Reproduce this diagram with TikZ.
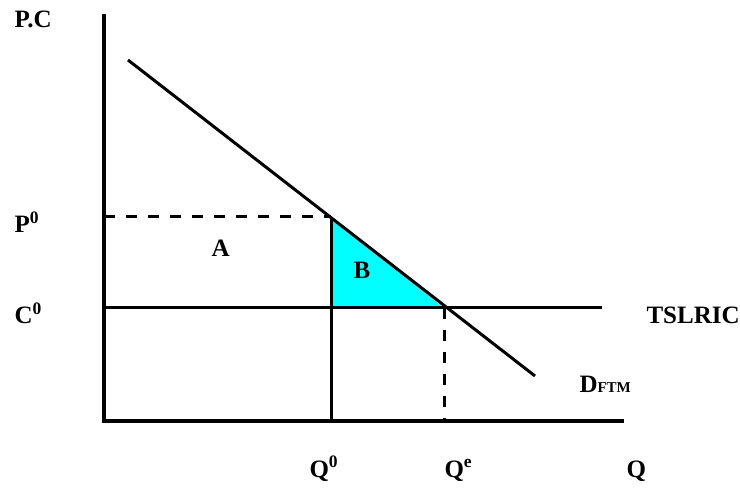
\documentclass[tikz,border=0pt]{standalone}
\usepackage{fontspec}
\setmainfont{Liberation Serif}
\definecolor{aqua}{RGB}{0,255,255}
\newcommand{\alto}[1]{\textsuperscript{#1}}
\newcommand{\bajo}[1]{\raisebox{-1pt}{\fontsize{15}{15}\selectfont #1}}

\begin{document}
\begin{tikzpicture}[x=1pt, y=-1pt, line width=3pt,
    font=\fontsize{25}{28}\selectfont\bfseries,
    etiqueta/.style={anchor=base west, inner sep=0pt},
    guia/.style={dash pattern=on 11pt off 11pt}]
  \useasboundingbox (0,0) rectangle (740,489);
  % ejes y puntos
  \coordinate (O) at (104,421);
  \coordinate (ytop) at (104,14);
  \coordinate (xend) at (624,421);
  \coordinate (dini) at (128,60);
  \coordinate (dfin) at (535,376);
  \coordinate (p0) at (104,217);
  \coordinate (a) at (331,217);
  \coordinate (q0) at (331,421);
  \coordinate (c0) at (104,308);
  \coordinate (b) at (331,308);
  \coordinate (e) at (444,308);
  \coordinate (qe) at (444,421);
  \coordinate (cfin) at (602,308);
  \fill[aqua] (a) -- (b) -- (e) -- cycle;
  \draw[line width=3.4pt] (ytop) -- (O) -- (xend);
  \draw (dini) -- (dfin);
  \draw[guia] (p0) -- (a);
  \draw (a) -- (q0);
  \draw (c0) -- (cfin);
  \draw[guia] (e) -- (qe);
  \foreach \n/\px/\py/\t in {pc/13/28/{P.C}, p/13/233/{P\alto{0}}, c/13/324/{C\alto{0}},
                             A/210/257/{A}, B/352/279/{B}, ts/645/324/{TSLRIC},
                             d/578/392/{D\bajo{FTM}}, qa/308/477/{Q\alto{0}},
                             qb/443/477/{Q\alto{e}}, q/625/477/{Q}}
    {\node[etiqueta] (lbl\n) at (\px,\py) {\t};}
\end{tikzpicture}
\end{document}
